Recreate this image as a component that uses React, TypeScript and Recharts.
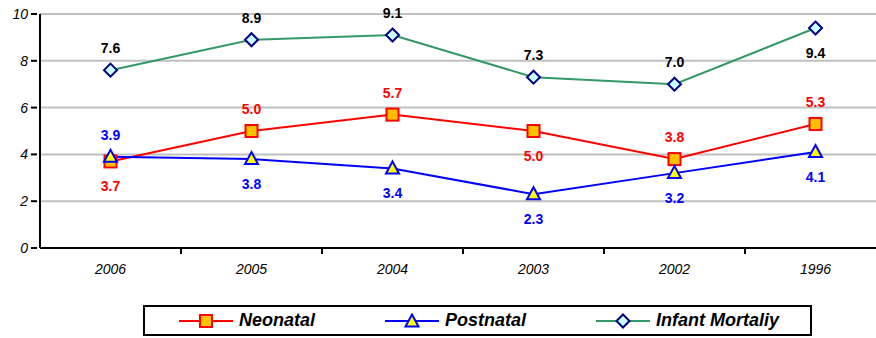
import React from 'react';
import { LineChart, Line, XAxis, YAxis, CartesianGrid, Legend, LabelList } from 'recharts';

// Mortality rates by year
const years = ['2006', '2005', '2004', '2003', '2002', '1996'];
const neonatal = [3.7, 5.0, 5.7, 5.0, 3.8, 5.3];
const postnatal = [3.9, 3.8, 3.4, 2.3, 3.2, 4.1];
const infant = [7.6, 8.9, 9.1, 7.3, 7.0, 9.4];
const yTicks = [0, 2, 4, 6, 8, 10];

// Which side of each point its value label sits on
const neonatalSide = ['below', 'above', 'above', 'below', 'above', 'above'];
const postnatalSide = ['above', 'below', 'below', 'below', 'below', 'below'];
const infantSide = ['above', 'above', 'above', 'above', 'above', 'below'];

const data = years.map((year, i) => ({
  year,
  neonatal: neonatal[i],
  postnatal: postnatal[i],
  infant: infant[i],
}));

const FONT = 'Arial, "Liberation Sans", sans-serif';
const CHART_W = 888;
const CHART_H = 338;
const MARGIN = { top: 14, right: 2, left: 0, bottom: 60 };
const Y_AXIS_W = 40;
const BAND = (CHART_W - MARGIN.left - MARGIN.right - Y_AXIS_W) / years.length;

const SquareDot = (props: any) => {
  const { cx, cy } = props;
  if (cx == null || cy == null) return null;
  return <rect x={cx - 6} y={cy - 6} width={12} height={12} fill="#FFC000" stroke="#FF0000" strokeWidth={2} />;
};

const TriangleDot = (props: any) => {
  const { cx, cy } = props;
  if (cx == null || cy == null) return null;
  return (
    <polygon
      points={`${cx},${cy - 7} ${cx + 6.5},${cy + 5} ${cx - 6.5},${cy + 5}`}
      fill="#FFFF00"
      stroke="#0000FF"
      strokeWidth={2}
      strokeLinejoin="miter"
    />
  );
};

const DiamondDot = (props: any) => {
  const { cx, cy } = props;
  if (cx == null || cy == null) return null;
  return (
    <polygon
      points={`${cx},${cy - 6.5} ${cx + 6.5},${cy} ${cx},${cy + 6.5} ${cx - 6.5},${cy}`}
      fill="#CCFFFF"
      stroke="#000080"
      strokeWidth={2}
    />
  );
};

const makeLabel = (sides: string[], color: string) => (props: any) => {
  const { x, y, value, index } = props;
  const dy = sides[index] === 'above' ? -22 : 25;
  return (
    <text
      x={x}
      y={y + dy}
      textAnchor="middle"
      dominantBaseline="central"
      fill={color}
      fontFamily={FONT}
      fontWeight="bold"
      fontSize={14}
    >
      {Number(value).toFixed(1)}
    </text>
  );
};

const XTick = (props: any) => {
  const { x, y, payload } = props;
  return (
    <g>
      <line x1={x + BAND / 2} y1={y - 8} x2={x + BAND / 2} y2={y - 2} stroke="#000" strokeWidth={2} />
      <text
        x={x}
        y={y + 13}
        textAnchor="middle"
        dominantBaseline="central"
        fontFamily={FONT}
        fontStyle="italic"
        fontSize={14}
        fill="#000"
      >
        {payload.value}
      </text>
    </g>
  );
};

const YTick = (props: any) => {
  const { x, y, payload } = props;
  return (
    <g>
      <line x1={x - 1} y1={y} x2={x + 5} y2={y} stroke="#000" strokeWidth={2} />
      <text
        x={x - 4}
        y={y}
        textAnchor="end"
        dominantBaseline="central"
        fontFamily={FONT}
        fontStyle="italic"
        fontSize={14}
        fill="#000"
      >
        {payload.value}
      </text>
    </g>
  );
};

const legendItems = [
  { name: 'Neonatal', color: '#FF0000', marker: 'square' },
  { name: 'Postnatal', color: '#0000FF', marker: 'triangle' },
  { name: 'Infant Mortaliy', color: '#339966', marker: 'diamond' },
];

const LegendIcon = ({ color, marker }: { color: string; marker: string }) => (
  <svg width={54} height={16} style={{ display: 'block', flexShrink: 0 }}>
    <line x1={0} y1={8} x2={54} y2={8} stroke={color} strokeWidth={2} />
    {marker === 'square' && <SquareDot cx={27} cy={8} />}
    {marker === 'triangle' && <TriangleDot cx={27} cy={8.5} />}
    {marker === 'diamond' && <DiamondDot cx={27} cy={8} />}
  </svg>
);

const legendOffsets = [34, 240, 451];

const LegendBox = () => (
  <div
    style={{
      boxSizing: 'border-box',
      width: 669,
      height: 31,
      border: '2px solid #000',
      background: '#fff',
      position: 'relative',
      fontFamily: FONT,
      fontWeight: 'bold',
      fontStyle: 'italic',
      fontSize: 18,
      color: '#000',
    }}
  >
    {legendItems.map((item, i) => (
      <div
        key={item.name}
        style={{
          position: 'absolute',
          left: legendOffsets[i],
          top: 0,
          height: 27,
          display: 'flex',
          alignItems: 'center',
          whiteSpace: 'nowrap',
        }}
      >
        <LegendIcon color={item.color} marker={item.marker} />
        <span style={{ marginLeft: 6 }}>{item.name}</span>
      </div>
    ))}
  </div>
);

export default function App() {
  return (
    <div
      style={{
        position: 'absolute',
        left: 0,
        top: 0,
        width: 876,
        height: 338,
        overflow: 'hidden',
      }}
    >
      <LineChart width={CHART_W} height={CHART_H} data={data} margin={MARGIN}>
        <CartesianGrid horizontal vertical={false} stroke="#C0C0C0" strokeWidth={2} />
        <XAxis
          dataKey="year"
          scale="band"
          axisLine={{ stroke: '#000', strokeWidth: 2 }}
          tickLine={false}
          tick={<XTick />}
          height={30}
          interval={0}
        />
        <YAxis
          domain={[0, 10]}
          ticks={yTicks}
          width={Y_AXIS_W}
          axisLine={{ stroke: '#000', strokeWidth: 2 }}
          tickLine={false}
          tick={<YTick />}
          interval={0}
        />
        <Legend
          layout="horizontal"
          verticalAlign="middle"
          align="center"
          wrapperStyle={{ left: 143, top: 305, width: 669, height: 31 }}
          content={() => <LegendBox />}
        />
        <Line
          dataKey="neonatal"
          name="Neonatal"
          stroke="#FF0000"
          strokeWidth={2}
          dot={<SquareDot />}
          activeDot={false}
          isAnimationActive={false}
        >
          <LabelList dataKey="neonatal" content={makeLabel(neonatalSide, '#FF0000')} />
        </Line>
        <Line
          dataKey="postnatal"
          name="Postnatal"
          stroke="#0000FF"
          strokeWidth={2}
          dot={<TriangleDot />}
          activeDot={false}
          isAnimationActive={false}
        >
          <LabelList dataKey="postnatal" content={makeLabel(postnatalSide, '#0000FF')} />
        </Line>
        <Line
          dataKey="infant"
          name="Infant Mortaliy"
          stroke="#339966"
          strokeWidth={2}
          dot={<DiamondDot />}
          activeDot={false}
          isAnimationActive={false}
        >
          <LabelList dataKey="infant" content={makeLabel(infantSide, '#000000')} />
        </Line>
      </LineChart>
    </div>
  );
}
